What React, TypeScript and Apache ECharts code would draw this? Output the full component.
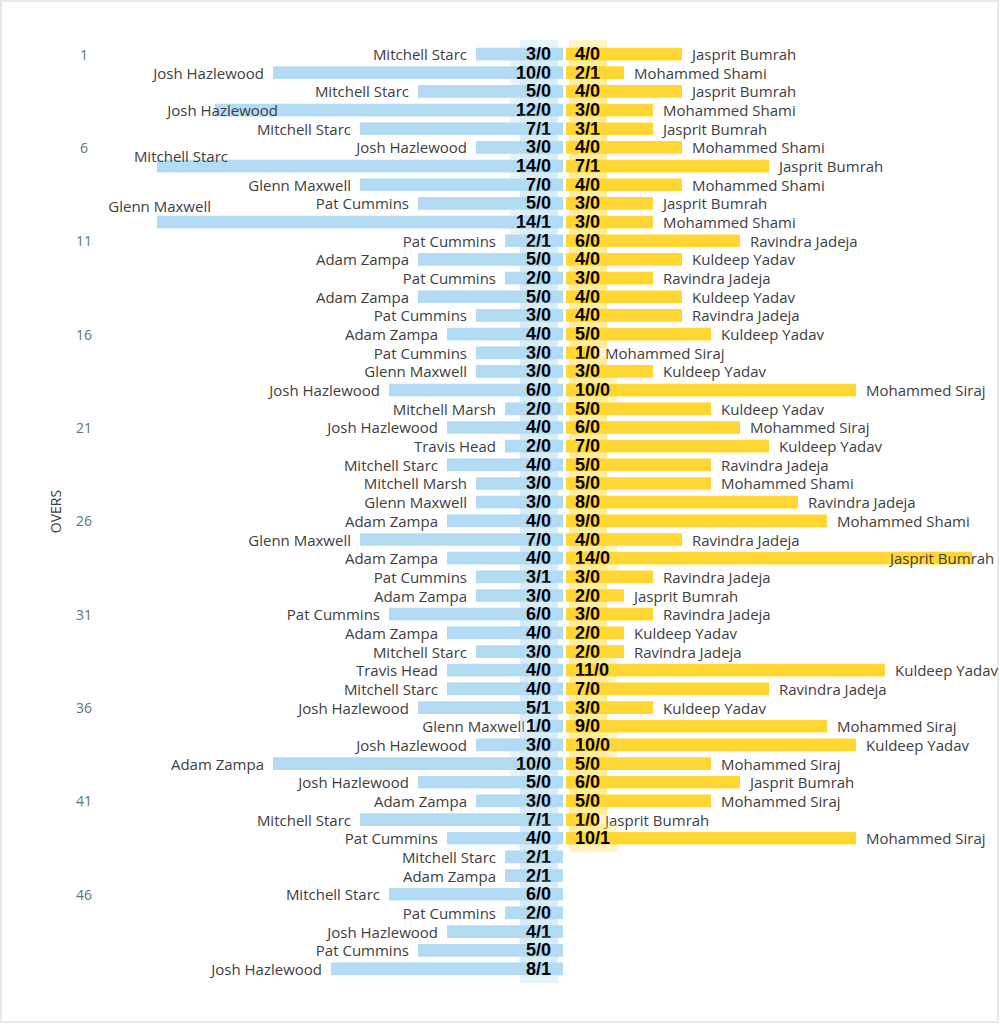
import React, { useEffect, useRef } from "react";
import * as echarts from "echarts";

const overs: string[] = Array.from({ length: 50 }, (_, i) => String(i + 1));

const ausBowlers = [
  "Mitchell Starc", "Josh Hazlewood", "Mitchell Starc", "Josh Hazlewood", "Mitchell Starc",
  "Josh Hazlewood", "Mitchell Starc", "Glenn Maxwell", "Pat Cummins", "Glenn Maxwell",
  "Pat Cummins", "Adam Zampa", "Pat Cummins", "Adam Zampa", "Pat Cummins",
  "Adam Zampa", "Pat Cummins", "Glenn Maxwell", "Josh Hazlewood", "Mitchell Marsh",
  "Josh Hazlewood", "Travis Head", "Mitchell Starc", "Mitchell Marsh", "Glenn Maxwell",
  "Adam Zampa", "Glenn Maxwell", "Adam Zampa", "Pat Cummins", "Adam Zampa",
  "Pat Cummins", "Adam Zampa", "Mitchell Starc", "Travis Head", "Mitchell Starc",
  "Josh Hazlewood", "Glenn Maxwell", "Josh Hazlewood", "Adam Zampa", "Josh Hazlewood",
  "Adam Zampa", "Mitchell Starc", "Pat Cummins", "Mitchell Starc", "Adam Zampa",
  "Mitchell Starc", "Pat Cummins", "Josh Hazlewood", "Pat Cummins", "Josh Hazlewood",
];
const ausRuns = [
  3, 10, 5, 12, 7, 3, 14, 7, 5, 14,
  2, 5, 2, 5, 3, 4, 3, 3, 6, 2,
  4, 2, 4, 3, 3, 4, 7, 4, 3, 3,
  6, 4, 3, 4, 4, 5, 1, 3, 10, 5,
  3, 7, 4, 2, 2, 6, 2, 4, 5, 8,
];
const ausWkts = [
  0, 0, 0, 0, 1, 0, 0, 0, 0, 1,
  1, 0, 0, 0, 0, 0, 0, 0, 0, 0,
  0, 0, 0, 0, 0, 0, 0, 0, 1, 0,
  0, 0, 0, 0, 0, 1, 0, 0, 0, 0,
  0, 1, 0, 1, 1, 0, 0, 1, 0, 1,
];

const indBowlers = [
  "Jasprit Bumrah", "Mohammed Shami", "Jasprit Bumrah", "Mohammed Shami", "Jasprit Bumrah",
  "Mohammed Shami", "Jasprit Bumrah", "Mohammed Shami", "Jasprit Bumrah", "Mohammed Shami",
  "Ravindra Jadeja", "Kuldeep Yadav", "Ravindra Jadeja", "Kuldeep Yadav", "Ravindra Jadeja",
  "Kuldeep Yadav", "Mohammed Siraj", "Kuldeep Yadav", "Mohammed Siraj", "Kuldeep Yadav",
  "Mohammed Siraj", "Kuldeep Yadav", "Ravindra Jadeja", "Mohammed Shami", "Ravindra Jadeja",
  "Mohammed Shami", "Ravindra Jadeja", "Jasprit Bumrah", "Ravindra Jadeja", "Jasprit Bumrah",
  "Ravindra Jadeja", "Kuldeep Yadav", "Ravindra Jadeja", "Kuldeep Yadav", "Ravindra Jadeja",
  "Kuldeep Yadav", "Mohammed Siraj", "Kuldeep Yadav", "Mohammed Siraj", "Jasprit Bumrah",
  "Mohammed Siraj", "Jasprit Bumrah", "Mohammed Siraj",
];
const indRuns = [
  4, 2, 4, 3, 3, 4, 7, 4, 3, 3,
  6, 4, 3, 4, 4, 5, 1, 3, 10, 5,
  6, 7, 5, 5, 8, 9, 4, 14, 3, 2,
  3, 2, 2, 11, 7, 3, 9, 10, 5, 6,
  5, 1, 10,
];
const indWkts = [
  0, 1, 0, 0, 1, 0, 1, 0, 0, 0,
  0, 0, 0, 0, 0, 0, 0, 0, 0, 0,
  0, 0, 0, 0, 0, 0, 0, 0, 0, 0,
  0, 0, 0, 0, 0, 0, 0, 0, 0, 0,
  0, 0, 1,
];

// layout constants (pixels)
const PX_PER_RUN = 29;
const PLOT_TOP = 44.7;
const PLOT_H = 933.6;
const L_LEFT = 91;
const L_W = 472;
const R_LEFT = 566;
const R_W = 420;

// manual label displacements mimicking the original's collision handling
const leftLabelShift: Record<number, [number, number]> = { 3: [72, 0], 6: [80, -10], 9: [63, -16] };
const rightLabelShift: Record<number, [number, number]> = { 27: [-92, 0] };

export default function App() {
  const ref = useRef<HTMLDivElement>(null);
  useEffect(() => {
    const chart = echarts.init(ref.current!, null, { renderer: "svg" });
    const nameLabel = {
      show: true,
      fontFamily: "'Open Sans', 'Noto Sans', sans-serif",
      fontSize: 15,
      color: "#404040",
    };
    const valLabel = {
      show: true,
      fontFamily: "'Liberation Sans', Arial, sans-serif",
      fontSize: 18,
      fontWeight: "bold",
      color: "#000000",
      lineHeight: 20,
    };
    const leftBarData = ausRuns.map((v, i) =>
      leftLabelShift[i] ? { value: v, label: { offset: leftLabelShift[i] } } : v
    );
    const rightBarData = indRuns.map((v, i) =>
      rightLabelShift[i] ? { value: v, label: { offset: rightLabelShift[i] } } : v
    );
    const BLUE = "#b3dbf4";
    const YELLOW = "#ffd633";
    chart.setOption({
      animation: false,
      grid: [
        { left: L_LEFT, width: L_W, top: PLOT_TOP, height: PLOT_H },
        { left: R_LEFT, width: R_W, top: PLOT_TOP, height: PLOT_H },
      ],
      xAxis: [
        { gridIndex: 0, type: "value", inverse: true, min: 0, max: L_W / PX_PER_RUN, show: false },
        { gridIndex: 1, type: "value", min: 0, max: R_W / PX_PER_RUN, show: false },
      ],
      yAxis: [
        {
          gridIndex: 0,
          type: "category",
          data: overs,
          inverse: true,
          position: "left",
          axisLine: { show: false, onZero: false },
          axisTick: { show: false },
          splitLine: { show: false },
          axisLabel: {
            interval: 4,
            align: "center",
            margin: 7,
            color: "#5a7676",
            fontSize: 14,
            fontFamily: "'Open Sans', sans-serif",
          },
          name: "OVERS",
          nameLocation: "middle",
          nameRotate: 90,
          nameGap: 29,
          nameTextStyle: { color: "#404040", fontSize: 14, fontFamily: "'Open Sans', sans-serif" },
        },
        {
          gridIndex: 1,
          type: "category",
          data: overs,
          inverse: true,
          show: false,
        },
      ],
      graphic: [
        {
          type: "rect",
          silent: true,
          shape: { x: 1, y: 1, width: 997, height: 1021 },
          style: { fill: "none", stroke: "#e6eaea", lineWidth: 2 },
        },
      ],
      series: [
        {
          type: "bar",
          name: "Australia",
          xAxisIndex: 0,
          yAxisIndex: 0,
          data: leftBarData,
          barWidth: "68%",
          barGap: "-100%",
          itemStyle: { color: BLUE },
          emphasis: { disabled: true },
          z: 2,
          label: {
            ...nameLabel,
            position: "left",
            distance: 9,
            formatter: (p: any) => ausBowlers[p.dataIndex],
          },
        },
        {
          type: "bar",
          name: "AusFigures",
          xAxisIndex: 0,
          yAxisIndex: 0,
          data: ausRuns,
          barWidth: "68%",
          barGap: "-100%",
          itemStyle: { color: "rgba(0,0,0,0)" },
          emphasis: { disabled: true },
          z: 3,
          label: {
            ...valLabel,
            position: "insideRight",
            distance: 5,
            padding: [4, 7, 4, 6],
            backgroundColor: "rgba(179,219,244,0.3)",
            formatter: (p: any) => `${ausRuns[p.dataIndex]}/${ausWkts[p.dataIndex]}`,
          },
        },
        {
          type: "bar",
          name: "India",
          xAxisIndex: 1,
          yAxisIndex: 1,
          data: rightBarData,
          barWidth: "68%",
          barGap: "-100%",
          itemStyle: { color: YELLOW },
          emphasis: { disabled: true },
          z: 2,
          label: {
            ...nameLabel,
            position: "right",
            distance: 10,
            formatter: (p: any) => indBowlers[p.dataIndex],
          },
        },
        {
          type: "bar",
          name: "IndFigures",
          xAxisIndex: 1,
          yAxisIndex: 1,
          data: indRuns,
          barWidth: "68%",
          barGap: "-100%",
          itemStyle: { color: "rgba(0,0,0,0)" },
          emphasis: { disabled: true },
          z: 3,
          label: {
            ...valLabel,
            position: "insideLeft",
            distance: 3,
            padding: [4, 7, 4, 6],
            backgroundColor: "rgba(255,214,51,0.28)",
            formatter: (p: any) => `${indRuns[p.dataIndex]}/${indWkts[p.dataIndex]}`,
          },
        },
      ],
    });
    return () => chart.dispose();
  }, []);
  return (
    <div
      ref={ref}
      style={{ position: "fixed", left: 0, top: 0, width: 1000, height: 1024, background: "#ffffff" }}
    />
  );
}
